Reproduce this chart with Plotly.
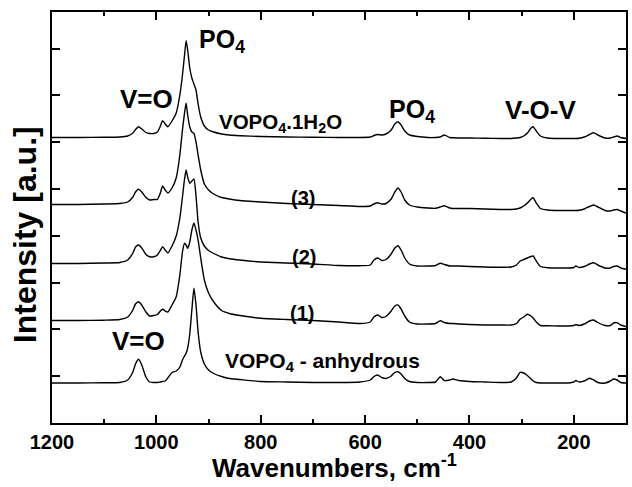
import plotly.graph_objects as go

# Wavenumbers (cm^-1), shared sampling grid for all spectra
wavenumber = [1200, 1150, 1100, 1070, 1055, 1045, 1040, 1034, 1028, 1020, 1013, 1005, 998, 993, 988, 983,
              978, 970, 962, 955, 950, 946, 943, 940, 936, 932, 928, 924, 920, 915, 908, 900, 890, 875,
              860, 840, 800, 750, 700, 650, 610, 590, 583, 576, 568, 560, 550, 543, 537, 531, 524, 515,
              500, 480, 465, 456, 448, 438, 432, 420, 400, 370, 340, 320, 310, 303, 296, 289, 282, 278,
              272, 264, 250, 230, 210, 200, 196, 190, 180, 170, 162, 154, 140, 130, 124, 117, 110, 100]

# Offset intensities (a.u.)
hydrate = [285.5, 285.5, 285.7, 286, 287, 290, 293.5, 296.3, 294, 290.5, 289.5, 289.5, 291, 296, 302.3, 299,
           296.3, 302, 310, 328, 348, 368, 382.3, 373, 355, 345, 339, 333, 319, 306, 297, 293, 291, 289,
           288, 287.3, 286.5, 286, 285.7, 285.5, 285.5, 286, 287.5, 288.5, 288, 289, 293, 299, 301.3, 298, 292, 288,
           286.5, 285.5, 285.5, 286, 288, 285.5, 285.2, 285, 285, 284.7, 284.5, 284.5, 285, 285.5, 287, 290, 295, 296.3,
           292, 287, 285, 284.5, 284.5, 284.5, 284.5, 284.7, 286, 288.5, 290.3, 288, 285, 285, 286, 287, 285.5, 284.5]

sample3 = [218.5, 218.5, 219, 219.5, 221, 226, 231, 233.7, 231, 225.5, 223, 223.5, 223.5, 229, 237, 233,
           230, 235, 245, 268, 293, 310, 319.7, 308, 296, 291, 289.7, 281, 268, 253, 239, 233, 229, 225.5,
           224, 222.5, 221, 219.5, 218.5, 217.5, 216.5, 217, 219, 220.3, 219, 219.5, 224, 231, 235, 231, 223, 218,
           216, 215, 214.7, 216, 217.3, 215, 214.5, 214.5, 214.5, 214, 213.5, 213.5, 214, 215, 217, 220, 224, 225.3,
           220, 214.5, 213, 212.5, 212.5, 212.5, 212.5, 212.7, 214, 216.5, 218, 216, 212.5, 212, 213, 213.5, 212, 210]

sample2 = [159.5, 159.5, 160, 160.5, 163, 170, 176, 178, 175, 168.5, 166.3, 166.3, 168, 172, 176.3, 173,
           170, 177, 187, 205, 226, 244, 253, 246, 239.7, 242, 244, 227, 201, 185, 177, 172.5, 169.5, 166,
           164.3, 163, 161, 160, 159, 157.5, 157.3, 158, 163, 165, 162.5, 163.5, 169, 175, 177.3, 173, 165, 159,
           157, 157, 157.5, 159.7, 158.5, 157, 157, 157, 156.5, 156, 155.7, 156, 158, 162, 163.5, 165, 166.5, 167,
           162, 156.5, 155.3, 155, 155, 155.5, 157, 155.5, 156.5, 159, 160.3, 158, 155, 155, 156.5, 157, 155, 153.7]

sample1 = [102.5, 102.5, 102.8, 103.5, 106, 113, 119, 121.3, 118, 111, 107, 107.5, 108.5, 111.5, 113.7, 112,
           111, 118, 126.3, 148, 171, 179.7, 178, 174.7, 181, 193, 200, 193, 183, 165, 143, 130, 121, 112.5,
           109.5, 107.5, 104.7, 103.5, 102.5, 101, 99.5, 101, 106, 108, 105.5, 106.5, 112, 117, 118, 114, 107, 101,
           99, 99, 99.5, 102.3, 100.5, 99.5, 99.5, 99, 98.5, 98, 98, 98, 99.5, 103.7, 106, 108.7, 107, 105,
           101, 97.5, 97.3, 97, 97, 97.5, 98.5, 97.5, 99, 102, 103, 100.5, 97.5, 97.5, 100, 100.3, 98, 96.3]

anhydrous = [40, 40, 40.2, 40.5, 43, 51, 59, 63.7, 58, 46, 41, 40.5, 40.5, 41, 41.5, 42,
             45, 50.5, 52, 56, 63, 67, 69.7, 75, 89, 113, 134.7, 118, 91, 71, 59, 53, 49.5, 46.5,
             44.5, 43.5, 41.5, 41, 40.5, 40.5, 41, 43, 46.5, 48, 45.5, 44.5, 47, 50.5, 51.3, 49, 44.5, 41.5,
             40.5, 40.5, 41, 46.3, 42.5, 43, 44, 42.5, 41.5, 41, 40.5, 41, 45, 50.7, 50, 47.5, 44, 42,
             40.5, 40, 40, 40, 40, 41, 42.5, 41, 42, 44.7, 43, 40.5, 40, 42, 44, 43, 40.5, 40]

series = [hydrate, sample3, sample2, sample1, anhydrous]

# Text labels: (text, wavenumber, intensity, xanchor, size)
labels = [
    ("<b>PO<sub>4</sub></b>", 923, 382, "left", 25),
    ("<b>V=O</b>", 1019, 324, "center", 26),
    ("<b>VOPO<sub>4</sub>.1H<sub>2</sub>O</b>", 883, 300, "left", 20.5),
    ("<b>(3)</b>", 719, 225, "center", 20),
    ("<b>(2)</b>", 718, 166, "center", 20),
    ("<b>(1)</b>", 720, 110, "center", 20),
    ("<b>V=O</b>", 1034, 82, "center", 26),
    ("<b>VOPO<sub>4</sub> - anhydrous</b>", 873, 61, "left", 21),
    ("<b>PO<sub>4</sub></b>", 558, 312, "left", 25),
    ("<b>V-O-V</b>", 264, 313, "center", 26),
]

FONT = "Liberation Sans, Arial, sans-serif"

fig = go.Figure()
for s in series:
    fig.add_trace(go.Scatter(x=wavenumber, y=s, mode="lines",
                             line=dict(color="black", width=1.4, shape="spline", smoothing=0.5),
                             showlegend=False, hoverinfo="skip"))

for text, xv, yv, xa, size in labels:
    fig.add_annotation(x=xv, y=yv, text=text, showarrow=False, xanchor=xa, yanchor="middle",
                       font=dict(family=FONT, size=size, color="black"))

fig.add_annotation(xref="paper", yref="paper", x=0.493, y=-0.152,
                   text="<b>Wavenumbers, cm<sup>-1</sup></b>", showarrow=False,
                   xanchor="center", yanchor="bottom", font=dict(family=FONT, size=26, color="black"))
fig.add_annotation(xref="paper", yref="paper", x=-0.047, y=0.457, textangle=-90,
                   text="<b>Intensity [a.u.]</b>", showarrow=False,
                   xanchor="center", yanchor="middle", font=dict(family=FONT, size=32, color="black"))

fig.update_xaxes(range=[1200, 100], showline=True, linewidth=2, linecolor="black", mirror="allticks",
                 ticks="inside", ticklen=8, tickwidth=1.5, tickcolor="black",
                 tickmode="array", tickvals=[1200, 1000, 800, 600, 400, 200],
                 ticktext=["1200", "1000", "800", "600", "400", "200"],
                 tickfont=dict(family=FONT, size=20, color="black", weight="bold"),
                 minor=dict(tickmode="array", tickvals=[1100, 900, 700, 500, 300],
                            ticks="inside", ticklen=4, tickwidth=1.5, tickcolor="black"),
                 showgrid=False, zeroline=False)
fig.update_yaxes(range=[0, 411], showline=True, linewidth=2, linecolor="black", mirror="allticks",
                 ticks="inside", ticklen=8, tickwidth=1.5, tickcolor="black",
                 tickmode="linear", tick0=0, dtick=46.8, showticklabels=False,
                 showgrid=False, zeroline=False)

fig.update_layout(width=632, height=487, margin=dict(l=52, r=4, t=12, b=64),
                  plot_bgcolor="white", paper_bgcolor="white")

fig.write_html("out.html", config={"displayModeBar": False},
               post_script="document.body.style.margin='0';document.body.style.overflow='hidden';")
